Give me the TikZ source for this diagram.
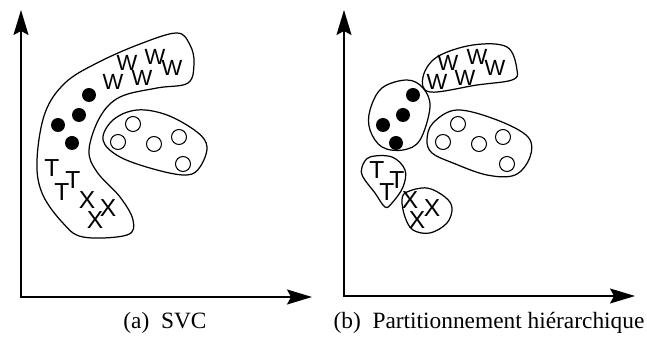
\documentclass[tikz,border=0pt]{standalone}
\usepackage{fontspec}
\setmainfont{Liberation Serif}
\newfontfamily\lettrefont{Liberation Sans}
\usetikzlibrary{arrows.meta,positioning}

\begin{document}
\begin{tikzpicture}[x=0.02cm, y=-0.02cm, >={Stealth[length=0.5cm,width=0.3cm,inset=0.08cm]}]
    \tikzstyle{axe} = [<->, line width=0.9pt]
    \tikzstyle{blob} = [line width=0.7pt, smooth cycle, tension=0.6]
    \tikzstyle{plein} = [circle, fill=black, minimum size=0.28cm, inner sep=0pt]
    \tikzstyle{vide} = [circle, draw, fill=white, line width=0.6pt, minimum size=0.3cm, inner sep=0pt]
    \tikzstyle{lettre} = [font=\lettrefont\fontsize{14}{14}\selectfont, inner sep=0pt]
    \tikzstyle{lettrew} = [font=\lettrefont\fontsize{12.5}{12.5}\selectfont, inner sep=0pt]
    \tikzstyle{legende} = [font=\fontsize{13.3}{16}\selectfont]

    \useasboundingbox (0,0) rectangle (647,347);

    % (a) SVC
    \coordinate (yA) at (21,10);
    \coordinate (xA) at (312,297);
    \draw[axe] (yA) |- (xA);

    \draw[blob] plot coordinates {(177,33) (190,45) (194,63) (188,83) (157,88) (120,97) (100,117) (89,150) (97,172) (120,197) (133,220) (127,235) (83,237) (62,222) (42,193) (37,160) (45,113) (65,83) (97,63) (140,44)};
    \draw[blob] plot coordinates {(103,140) (113,120) (137,110) (167,115) (197,132) (207,147) (200,167) (187,175) (157,170) (120,157)};

    \node[lettrew] (wA1) at (113,82) {W};
    \node[lettrew] (wA2) at (127,63) {W};
    \node[lettrew] (wA3) at (142,78) {W};
    \node[lettrew] (wA4) at (155,57) {W};
    \node[lettrew] (wA5) at (172,68) {W};

    \node[plein] (pA1) at (89,95) {};
    \node[plein] (pA2) at (79,115) {};
    \node[plein] (pA3) at (58,125) {};
    \node[plein] (pA4) at (72,143) {};

    \node[vide] (vA1) at (133,124) {};
    \node[vide] (vA2) at (118,142) {};
    \node[vide] (vA3) at (154,144) {};
    \node[vide] (vA4) at (179,137) {};
    \node[vide] (vA5) at (183,164) {};

    \node[lettre] (tA1) at (52,168) {T};
    \node[lettre] (tA2) at (62,192) {T};
    \node[lettre] (tA3) at (73,180) {T};
    \node[lettre] (xA1) at (87,200) {X};
    \node[lettre] (xA2) at (95,220) {X};
    \node[lettre] (xA3) at (108,208) {X};

    \node[legende] (capA) at (165,323) {(a)\enspace SVC};

    % (b) partitionnement hierarchique
    \coordinate (yB) at (344,10);
    \coordinate (xB) at (635,296);
    \draw[axe] (yB) |- (xB);

    \draw[blob] plot coordinates {(423,77) (437,57) (473,45) (507,47) (517,70) (512,80) (477,85) (430,92)};
    \draw[blob] plot coordinates {(370,110) (382,88) (407,80) (423,88) (430,107) (420,140) (403,150) (382,147) (370,130)};
    \draw[blob] plot coordinates {(427,140) (433,123) (457,110) (497,120) (528,137) (530,157) (515,175) (487,175) (453,163) (432,153)};
    \draw[blob] plot coordinates {(362,167) (370,157) (392,157) (405,170) (403,187) (392,203) (385,207) (375,193) (363,177)};
    \draw[blob] plot coordinates {(402,200) (407,192) (427,188) (445,197) (452,208) (447,223) (430,233) (413,230) (405,217)};

    \node[lettrew] (wB1) at (437,82) {W};
    \node[lettrew] (wB2) at (448,63) {W};
    \node[lettrew] (wB3) at (465,78) {W};
    \node[lettrew] (wB4) at (477,57) {W};
    \node[lettrew] (wB5) at (495,68) {W};

    \node[plein] (pB1) at (413,95) {};
    \node[plein] (pB2) at (403,115) {};
    \node[plein] (pB3) at (383,125) {};
    \node[plein] (pB4) at (396,143) {};

    \node[vide] (vB1) at (458,124) {};
    \node[vide] (vB2) at (443,142) {};
    \node[vide] (vB3) at (479,144) {};
    \node[vide] (vB4) at (503,137) {};
    \node[vide] (vB5) at (507,164) {};

    \node[lettre] (tB1) at (377,170) {T};
    \node[lettre] (tB2) at (387,192) {T};
    \node[lettre] (tB3) at (397,180) {T};
    \node[lettre] (xB1) at (410,200) {X};
    \node[lettre] (xB2) at (417,220) {X};
    \node[lettre] (xB3) at (432,208) {X};

    \node[legende] (capB) at (489,323) {(b)\enspace Partitionnement hiérarchique};
\end{tikzpicture}
\end{document}
